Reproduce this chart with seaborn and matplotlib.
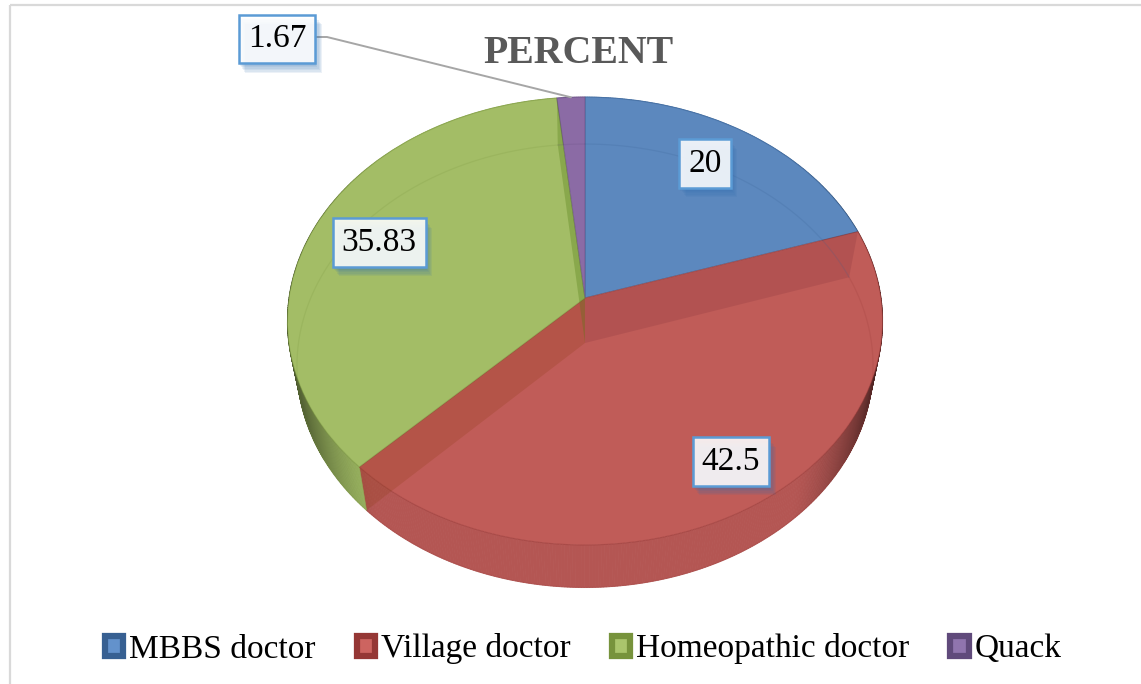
import numpy as np
import matplotlib
matplotlib.use('Agg')
import matplotlib.pyplot as plt
import matplotlib.patheffects as pe
from matplotlib.patches import Patch, Rectangle
from matplotlib.transforms import Transform
import seaborn as sns

categories = ['MBBS doctor', 'Village doctor', 'Homeopathic doctor', 'Quack']
percent = [20, 42.5, 35.83, 1.67]

face_colors = sns.color_palette(['#5C88BE', '#C05C58', '#A3BD66', '#8B6BA5'])
wall_colors = ['#4F7AAE', '#B45653', '#9BB560', '#7B5D96']
dark_colors = ['#376092', '#953735', '#77933C', '#604A7B']
light_colors = ['#6392CC', '#CD6460', '#AAC56C', '#9075AE']

# centre of the pie and tilt of the perspective, in pixels of the picture
CX, CY = 585.0, 298.0
RX, RY, TILT = 296.0, 221.6, 0.1027
# the lower rim of the pie
LOW_CY, LOW_SX, LOW_SY = 343.0, 0.968, 0.99


def project(u, v):
    d = 1 + TILT * v
    return CX + RX * u / d, CY - RY * v / d


def lower(x, y):
    return CX + (x - CX) * LOW_SX, LOW_CY + (y - CY) * LOW_SY


def rim(angle):
    a = np.radians(angle)
    return project(np.cos(a), np.sin(a))


class TiltTransform(Transform):
    input_dims = 2
    output_dims = 2
    is_separable = False

    def transform_non_affine(self, values):
        values = np.asarray(values, dtype=float)
        x, y = project(values[:, 0], values[:, 1])
        return np.column_stack([x, y])


sns.set_theme(style='white')
plt.rcParams['font.family'] = ['Liberation Serif', 'DejaVu Serif']

fig = plt.figure(figsize=(11.41, 6.84), dpi=100)
ax = fig.add_axes([0, 0, 1, 1])

wedges, _ = ax.pie(percent, colors=face_colors, startangle=90, counterclock=False,
                   radius=1, frame=True, normalize=True,
                   wedgeprops={'zorder': 3, 'linewidth': 0.8})
ax.set_aspect('auto')
ax.set_xlim(0, 1141)
ax.set_ylim(684, 0)
ax.set_xticks([])
ax.set_yticks([])
for s in ax.spines.values():
    s.set_visible(False)

tilt = TiltTransform() + ax.transData
for w, dark in zip(wedges, dark_colors):
    w.set_transform(tilt)
    w.set_edgecolor(matplotlib.colors.to_rgba(dark, 0.45))

# chart border, the right and bottom sides are cut off by the picture
ax.add_patch(Rectangle((10, 5), 1160, 720, fill=False, ec='#D9D9D9', lw=1.6, zorder=0))

# outer wall, darkens towards the sides
for w, base in zip(wedges, wall_colors):
    base = np.array(matplotlib.colors.to_rgb(base))
    angles = np.linspace(w.theta1, w.theta2, int(w.theta2 - w.theta1) * 2 + 2)
    for a0, a1 in zip(angles[:-1], angles[1:]):
        x0, y0 = rim(a0)
        x1, y1 = rim(a1)
        x2, y2 = lower(x1, y1)
        x3, y3 = lower(x0, y0)
        u = abs(np.cos(np.radians((a0 + a1) / 2)))
        shade = 1 - 0.62 * max(0, (u - 0.66) / 0.34) ** 1.4
        ax.fill([x0, x1, x2, x3], [y0, y1, y2, y3], color=base * shade, lw=0.6, zorder=1)

# inner walls seen through the slices
cuts = [(wedges[0].theta1, '#7A2E38', 0.20),
        (wedges[1].theta1, '#8A3A10', 0.22),
        (wedges[2].theta1, '#4F7A10', 0.30)]
lx, ly = lower(CX, CY)
for angle, c, al in cuts:
    x, y = rim(angle)
    x2, y2 = lower(x, y)
    ax.fill([CX, x, x2, lx], [CY, y, y2, ly], color=c, alpha=al, lw=0, zorder=4)

# lower rim seen through the top
for w, dark in zip(wedges, dark_colors):
    angles = np.linspace(w.theta1, w.theta2, 80)
    x, y = lower(*rim(angles))
    ax.plot(x, y, color=dark, alpha=0.18, lw=0.9, zorder=4)

ax.text(578.5, 53.5, 'PERCENT', color='#595959', fontsize=28.7, fontweight='bold',
        ha='center', va='center', zorder=6)

# leader line of the small slice
qx, qy = rim((wedges[3].theta1 + wedges[3].theta2) / 2)
ax.plot([315, 327, qx], [37, 37, qy], color='#A6A6A6', lw=1.4, zorder=5)

label_pos = [(705, 163.5), (731, 461.5), (379, 242.5), (277, 39)]
shadow = [pe.SimplePatchShadow(offset=(o * 0.8, -o - 1), shadow_rgbFace='#2F6DB0', alpha=0.09)
          for o in (6, 5, 4, 3, 2, 1)]
for val, (x, y) in zip(percent, label_pos):
    t = ax.text(x, y, f'{val:g}', fontsize=24, color='black', ha='center', va='center',
                zorder=7, bbox=dict(boxstyle='square,pad=0.27', fc=(1, 1, 1, 0.88),
                                    ec='#5B9BD5', lw=1.8))
    t.get_bbox_patch().set_path_effects(shadow + [pe.Normal()])

handles = [Patch(facecolor=lc, edgecolor=dc, linewidth=4.5, joinstyle='round')
           for lc, dc in zip(light_colors, dark_colors)]
ax.legend(handles, categories, loc='center', bbox_to_anchor=(583 / 1141, 1 - 649 / 684),
          bbox_transform=fig.transFigure, ncols=4, frameon=False, fontsize=24,
          handlelength=0.56, handleheight=0.56, handletextpad=0.16, columnspacing=1.24,
          labelcolor='black', borderpad=0)

fig.savefig('out.png', dpi=100)
